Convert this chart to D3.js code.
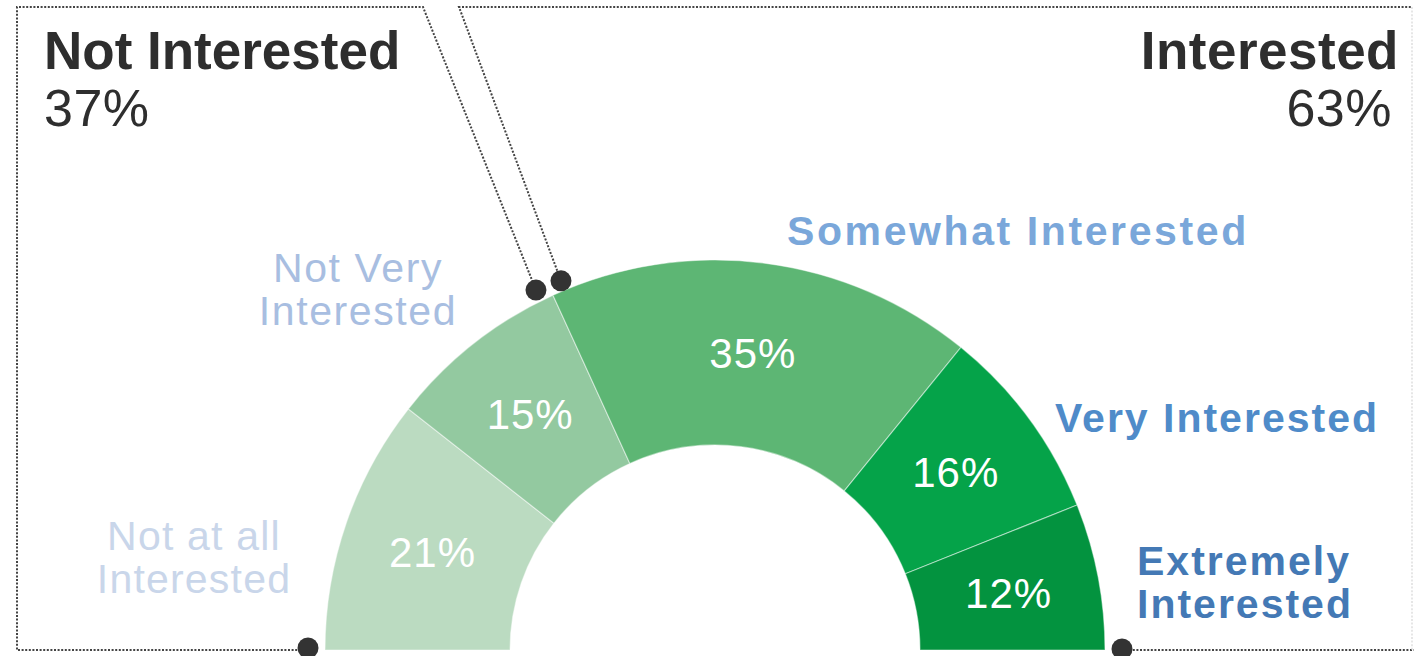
<!DOCTYPE html>
<html>
<head>
<meta charset="utf-8">
<script src="https://cdn.jsdelivr.net/npm/d3@7"></script>
<style>
  html, body { margin: 0; padding: 0; background: #fff; }
  svg { display: block; font-family: "Liberation Sans", Arial, sans-serif; }
</style>
</head>
<body>
<svg id="chart" width="1414" height="656"></svg>
<script>
// Survey responses, ordered from least to most interested
const categories = ["Not at all Interested", "Not Very Interested", "Somewhat Interested", "Very Interested", "Extremely Interested"];
const values = [21, 15, 35, 16, 12];
const valueLabels = ["21%", "15%", "35%", "16%", "12%"];
const groupNames = ["Not Interested", "Interested"];
const groupValues = ["37%", "63%"];

const segColors = ["#bbdbc1", "#93c9a0", "#5db674", "#05a349", "#03933f"];
const labelColors = ["#c9d6ea", "#a8bee1", "#7aa7da", "#4f8bc9", "#4479b5"];

const svg = d3.select("#chart");
const cx = 715, cy = 650, rOuter = 390, rInner = 205;

const pie = d3.pie().value(d => d).sort(null)
  .startAngle(-Math.PI / 2).endAngle(Math.PI / 2);
const arcs = pie(values);
const arc = d3.arc().innerRadius(rInner).outerRadius(rOuter);

const g = svg.append("g").attr("transform", `translate(${cx},${cy})`);

g.selectAll("path.seg").data(arcs).join("path")
  .attr("class", "seg")
  .attr("d", arc)
  .attr("fill", (d, i) => segColors[i])
  .attr("stroke", "rgba(255,255,255,0.45)")
  .attr("stroke-width", 1.2);

// value labels at the middle of each band
const labelArc = d3.arc().innerRadius(299).outerRadius(299);
g.selectAll("text.val").data(arcs).join("text")
  .attr("class", "val")
  .attr("transform", d => `translate(${labelArc.centroid(d)})`)
  .attr("text-anchor", "middle")
  .attr("dominant-baseline", "central")
  .attr("fill", "#fff")
  .attr("font-size", 42)
  .attr("letter-spacing", 1)
  .text((d, i) => valueLabels[i]);

// bracket dots along a ring just outside the gauge
const polar = (a, r) => [cx + r * Math.sin(a), cy - r * Math.cos(a)];
const splitAngle = arcs[1].endAngle;
const gap = 1.9 * Math.PI / 180;
const dotLeft = polar(-Math.PI / 2, 407);
const dotA = polar(splitAngle - gap, 402);
const dotB = polar(splitAngle + gap, 400);
const dotRight = polar(Math.PI / 2, 407);

const frame = svg.append("g")
  .attr("fill", "none")
  .attr("stroke", "#444")
  .attr("stroke-width", 2)
  .attr("stroke-dasharray", "2 1.6");

const line = d3.line();
frame.append("path").attr("d", line([[dotLeft[0], 650], [17, 650], [17, 7], [423, 7], dotA]));
frame.append("path").attr("d", line([dotB, [459, 7], [1412, 7]]));
frame.append("path").attr("d", line([[dotRight[0], 650], [1414, 650]]));
frame.append("path").attr("d", line([[1412, 7], [1412, 650]])).attr("stroke", "#dcdcdc").attr("stroke-width", 1.4);

svg.selectAll("circle.dot").data([[dotLeft[0], 648], dotA, dotB, [dotRight[0], 649]]).join("circle")
  .attr("class", "dot")
  .attr("cx", d => d[0]).attr("cy", d => d[1])
  .attr("r", 10.5)
  .attr("fill", "#333333");

// group headline totals
svg.append("text").attr("x", 44).attr("y", 69)
  .attr("font-size", 53).attr("font-weight", "bold").attr("fill", "#2e2e2e")
  .attr("letter-spacing", 0)
  .text(groupNames[0]);
svg.append("text").attr("x", 44).attr("y", 126)
  .attr("font-size", 52).attr("fill", "#2e2e2e")
  .attr("letter-spacing", 0.5)
  .text(groupValues[0]);
svg.append("text").attr("x", 1399).attr("y", 69).attr("text-anchor", "end")
  .attr("font-size", 53).attr("font-weight", "bold").attr("fill", "#2e2e2e")
  .attr("letter-spacing", 0.5)
  .text(groupNames[1]);
svg.append("text").attr("x", 1392).attr("y", 126).attr("text-anchor", "end")
  .attr("font-size", 52).attr("fill", "#2e2e2e")
  .attr("letter-spacing", 0.5)
  .text(groupValues[1]);

// category labels around the gauge
const catLayout = [
  { x: 194, y: 550, anchor: "middle", weight: "normal", spacing: 1.2, lines: ["Not at all", "Interested"] },
  { x: 358, y: 282, anchor: "middle", weight: "normal", spacing: 1.6, lines: ["Not Very", "Interested"] },
  { x: 787, y: 245, anchor: "start", weight: "bold", spacing: 2.6, lines: ["Somewhat Interested"] },
  { x: 1055, y: 432, anchor: "start", weight: "bold", spacing: 2.0, lines: ["Very Interested"] },
  { x: 1137, y: 575, anchor: "start", weight: "bold", spacing: 2.0, lines: ["Extremely", "Interested"] }
];

catLayout.forEach((c, i) => {
  const t = svg.append("text")
    .attr("x", c.x).attr("y", c.y)
    .attr("text-anchor", c.anchor)
    .attr("font-size", 41)
    .attr("font-weight", c.weight)
    .attr("letter-spacing", c.spacing)
    .attr("fill", labelColors[i])
    .attr("aria-label", categories[i]);
  c.lines.forEach((ln, j) => {
    t.append("tspan").attr("x", c.x).attr("dy", j === 0 ? 0 : 43).text(ln);
  });
});
</script>
</body>
</html>
